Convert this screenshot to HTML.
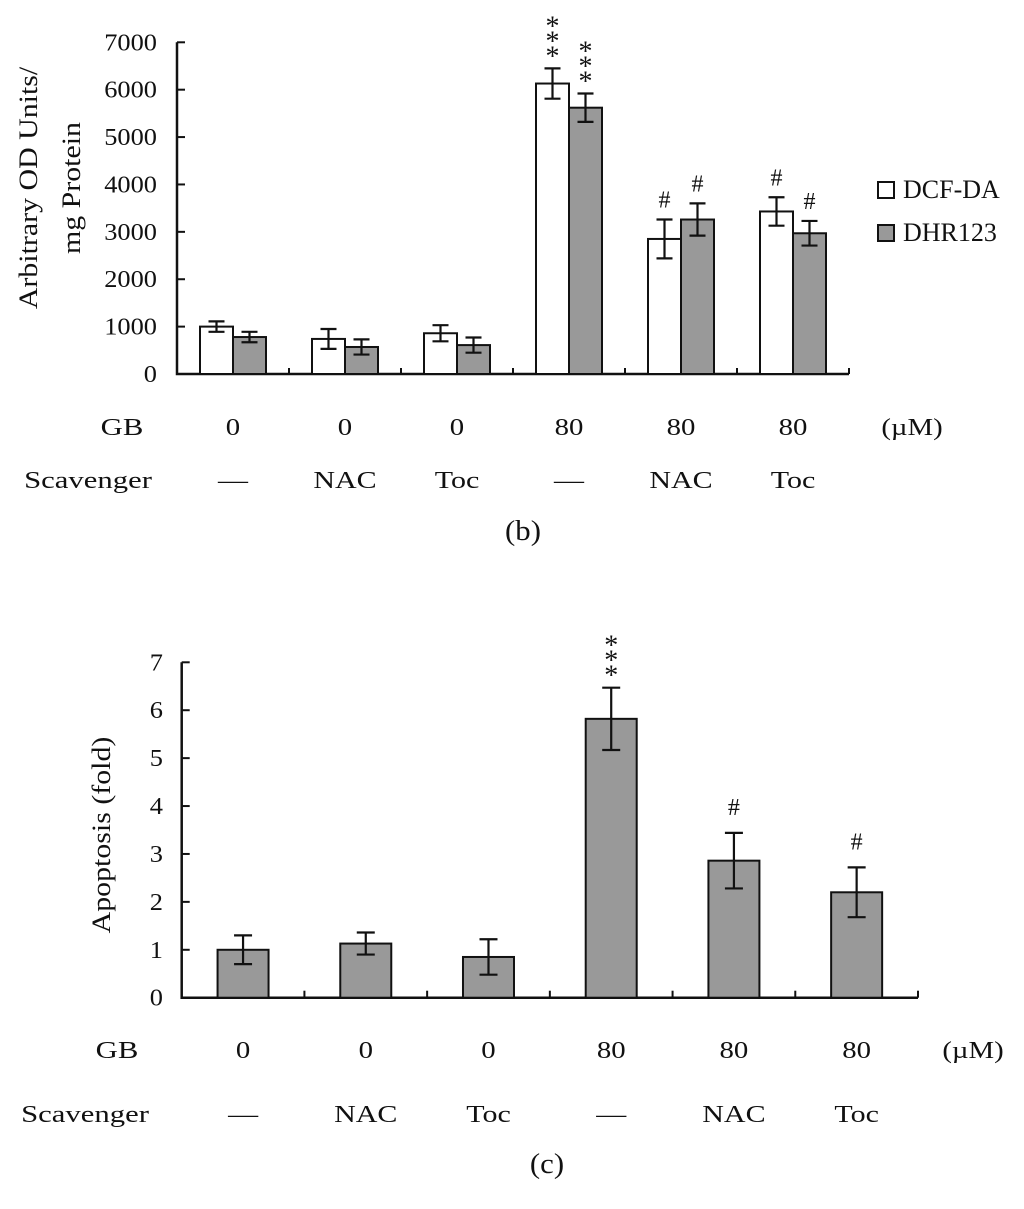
<!DOCTYPE html>
<html><head><meta charset="utf-8"><style>
html,body{margin:0;padding:0;background:#fff;}
svg{display:block;font-family:"Liberation Serif","Times New Roman",serif;}
svg text{font-family:"Liberation Serif","Times New Roman",serif;}
</style></head><body>
<svg id="fig" width="1024" height="1209" viewBox="0 0 1024 1209" xmlns="http://www.w3.org/2000/svg"></svg>
<script>
// ---- Chart (b) data ----
const groupsB = ["0|—","0|NAC","0|Toc","80|—","80|NAC","80|Toc"];
const dcfVals = [1000, 740, 860, 6130, 2850, 3430];
const dcfErr  = [110, 210, 170, 320, 410, 300];
const dhrVals = [780, 570, 610, 5620, 3260, 2970];
const dhrErr  = [110, 160, 160, 300, 340, 260];
const dcfMarks = ["", "", "", "***", "#", "#"];
const dhrMarks = ["", "", "", "***", "#", "#"];
const ticksB = [0,1000,2000,3000,4000,5000,6000,7000];
// ---- Chart (c) data ----
const apopVals = [1.0, 1.13, 0.85, 5.82, 2.86, 2.2];
const apopErr  = [0.3, 0.23, 0.37, 0.65, 0.58, 0.52];
const apopMarks = ["", "", "", "***", "#", "#"];
const ticksC = [0,1,2,3,4,5,6,7];
const gbRow = ["0","0","0","80","80","80"];
const scavRow = ["—","NAC","Toc","—","NAC","Toc"];

const NS="http://www.w3.org/2000/svg";
const svg=document.getElementById('fig');
function el(tag,attrs,parent){const e=document.createElementNS(NS,tag);for(const k in attrs)e.setAttribute(k,attrs[k]);(parent||svg).appendChild(e);return e;}
function txt(x,y,s,size,anchor,sx,rot,parent){
  const g=el('g',{transform:`translate(${x},${y}) rotate(${rot||0}) scale(${sx||1},1)`},parent);
  const t=el('text',{x:0,y:0,'font-size':size,'text-anchor':anchor||'middle',fill:'#111','font-family':'Liberation Serif, Times New Roman, serif'},g);
  t.textContent=s;return t;
}
function stars(cx,t,parent){
  for(let k=0;k<3;k++){const m=txt(cx,t-15-15*k+12,'*',28,'middle',1,0,parent);
    
    }
}

// ---------- Chart B ----------
const bx0=177, bx1=849, by0=374, byTop=42.3;
const bgw=(bx1-bx0)/6;
const yB=v=>by0-(v/7000)*(by0-byTop);
const gB=el('g',{});


let ax=el('path',{d:`M${bx0},${byTop}V${by0}H${bx1}`,stroke:'#111','stroke-width':2.5,fill:'none'},gB);


ticksB.forEach(t=>{
  const y=yB(t);
  el('line',{x1:bx0,x2:bx0+8,y1:y,y2:y,stroke:'#111','stroke-width':2},gB);
  const l=txt(157,y+8,String(t),24,'end',1.1,0,gB);
  
  
});
for(let i=1;i<=6;i++){const x=bx0+i*bgw;el('line',{x1:x,x2:x,y1:by0,y2:by0-6,stroke:'#111','stroke-width':2},gB);}
const bw=33;
function barB(i,val,err,fill,off,mark,name){
  const cx=bx0+(i+0.5)*bgw+off;
  const r=el('rect',{x:cx-bw/2,y:yB(val),width:bw,height:by0-yB(val),fill:fill,stroke:'#111','stroke-width':2},gB);
  
  
  const t=yB(val+err),b=yB(val-err);
  const eb=el('path',{d:`M${cx},${t}V${b}M${cx-8},${t}H${cx+8}M${cx-8},${b}H${cx+8}`,stroke:'#111','stroke-width':2.2,fill:'none'},gB);
  
  
  if(mark==='***'){stars(cx,t,gB);}
  else if(mark){const m=txt(cx,t-12,mark,24,'middle',1,0,gB);
    
    }
}
for(let i=0;i<6;i++){
  barB(i,dcfVals[i],dcfErr[i],'#fff',-bw/2,dcfMarks[i],'bar-dcf-da');
  barB(i,dhrVals[i],dhrErr[i],'#999',bw/2,dhrMarks[i],'bar-dhr123');
}
let lg=el('g',{},gB);


el('rect',{x:878,y:182,width:16,height:16,fill:'#fff',stroke:'#111','stroke-width':2},lg);
el('rect',{x:878,y:225,width:16,height:16,fill:'#999',stroke:'#111','stroke-width':2},lg);
txt(903,198,'DCF-DA',26,'start',1,0,lg);
txt(903,241,'DHR123',26,'start',1,0,lg);
let yt1=txt(37,188,'Arbitrary OD Units/',26,'middle',1.15,-90,gB);


let yt2=txt(80,188,'mg Protein',26,'middle',1.15,-90,gB);


txt(122,435,'GB',24,'middle',1.28,0,gB);
txt(88,488,'Scavenger',24,'middle',1.28,0,gB);
for(let i=0;i<6;i++){
  const cx=bx0+(i+0.5)*bgw;
  txt(cx,435,gbRow[i],24,'middle',1.2,0,gB);
  txt(cx,488,scavRow[i],24,'middle',1.25,0,gB);
}
txt(912,435,'(µM)',24,'middle',1.2,0,gB);
txt(523,540,'(b)',28,'middle',1.1,0,gB);

// ---------- Chart C ----------
const cx0=181.7, cx1=918, cy0=997.7, cyTop=662.3;
const cgw=(cx1-cx0)/6;
const yC=v=>cy0-(v/7)*(cy0-cyTop);
const gC=el('g',{});


ax=el('path',{d:`M${cx0},${cyTop}V${cy0}H${cx1}`,stroke:'#111','stroke-width':2.5,fill:'none'},gC);


ticksC.forEach(t=>{
  const y=yC(t);
  el('line',{x1:cx0,x2:cx0+8,y1:y,y2:y,stroke:'#111','stroke-width':2},gC);
  const l=txt(163,y+8,String(t),24,'end',1.1,0,gC);
  
  
});
for(let i=1;i<=6;i++){const x=cx0+i*cgw;el('line',{x1:x,x2:x,y1:cy0,y2:cy0-7,stroke:'#111','stroke-width':2},gC);}
const cbw=51;
for(let i=0;i<6;i++){
  const cx=cx0+(i+0.5)*cgw, v=apopVals[i], e=apopErr[i];
  const r=el('rect',{x:cx-cbw/2,y:yC(v),width:cbw,height:cy0-yC(v),fill:'#999',stroke:'#111','stroke-width':2},gC);
  
  
  const t=yC(v+e),b=yC(v-e);
  const eb=el('path',{d:`M${cx},${t}V${b}M${cx-9},${t}H${cx+9}M${cx-9},${b}H${cx+9}`,stroke:'#111','stroke-width':2.2,fill:'none'},gC);
  
  
  const mk=apopMarks[i];
  if(mk==='***'){stars(cx,t,gC);}
  else if(mk){const m=txt(cx,t-18,mk,24,'middle',1,0,gC);
    
    }
}
let ytc=txt(110,835,'Apoptosis (fold)',26,'middle',1.15,-90,gC);


txt(117,1058,'GB',24,'middle',1.28,0,gC);
txt(85,1122,'Scavenger',24,'middle',1.28,0,gC);
for(let i=0;i<6;i++){
  const cx=cx0+(i+0.5)*cgw;
  txt(cx,1058,gbRow[i],24,'middle',1.2,0,gC);
  txt(cx,1122,scavRow[i],24,'middle',1.25,0,gC);
}
txt(973,1058,'(µM)',24,'middle',1.2,0,gC);
txt(547,1173,'(c)',28,'middle',1.1,0,gC);
</script>
</body></html>
